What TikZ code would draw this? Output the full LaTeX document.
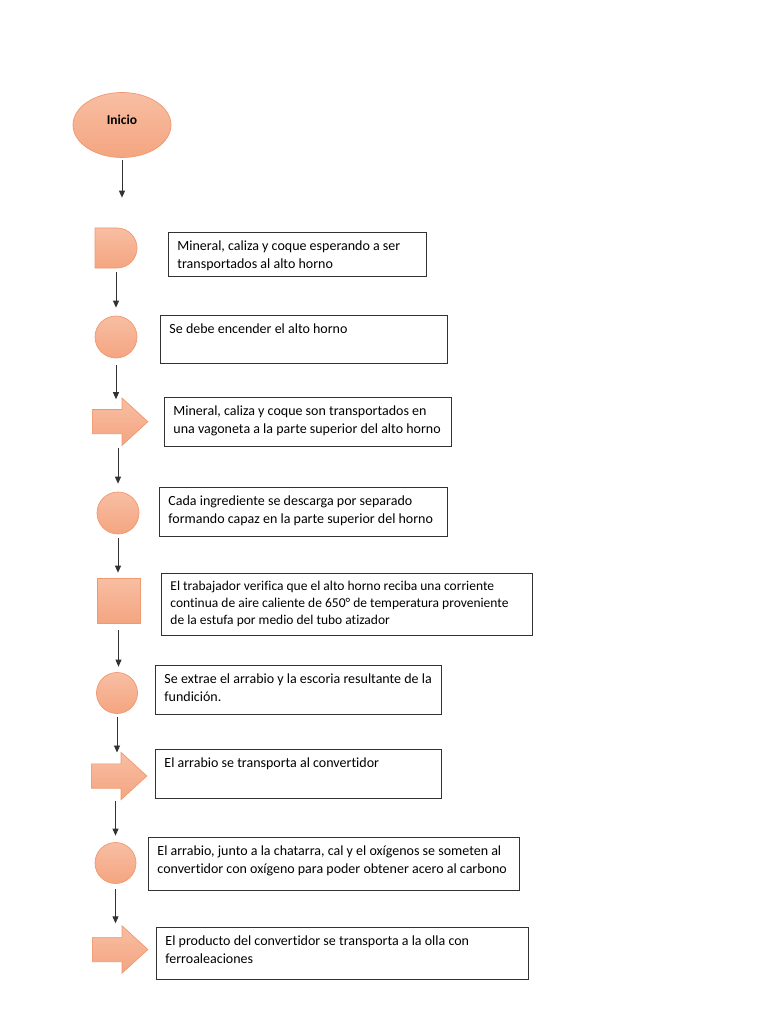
\documentclass[tikz,border=0pt]{standalone}
\usepackage{fontspec}
\setmainfont{Carlito}[Ligatures=NoCommon]
\usetikzlibrary{shapes.geometric,shapes.misc,shapes.arrows,arrows.meta}

\definecolor{naranja}{RGB}{244,165,128}
\definecolor{naranjaclaro}{RGB}{248,190,163}
\definecolor{naranjaborde}{RGB}{240,152,112}
\definecolor{gris}{RGB}{50,50,50}

\newcommand{\texto}[3]{\parbox[t][#2][t]{#1}{\strut #3}}

\tikzset{
  forma/.style={draw=naranjaborde, line width=0.7pt, top color=naranjaclaro, bottom color=naranja},
  caja/.style={draw=gris, line width=0.9pt, anchor=north west, inner xsep=9pt, inner ysep=5.5pt,
    font=\fontsize{14}{18}\selectfont},
  flecha/.style={draw=gris, line width=0.9pt, -{Triangle[length=7pt,width=6pt]}},
  flechaforma/.style={forma, single arrow, single arrow head extend=11.5pt, single arrow tip angle=85,
    minimum height=55.5pt, inner xsep=0pt, inner ysep=11.8pt, anchor=west},
}

\begin{document}
\begin{tikzpicture}[x=1pt,y=-1pt]
\useasboundingbox[fill=white] (0,0) rectangle (768,1024);

% formas
\node[forma, ellipse, minimum width=98pt, minimum height=65pt, text height=0pt, text depth=0pt,
  font=\fontsize{13.5}{18}\selectfont\bfseries] (inicio) at (122,125) {Inicio};
\node[forma, rounded rectangle, rounded rectangle west arc=none, minimum width=42pt,
  minimum height=40pt, inner sep=0pt] (espera) at (116,248) {};
\node[forma, circle, minimum size=42pt, inner sep=0pt] (encender) at (116,337) {};
\node[flechaforma] (vagoneta) at (92,421.7) {};
\node[forma, circle, minimum size=42pt, inner sep=0pt] (descarga) at (118,513) {};
\node[forma, rectangle, minimum width=43pt, minimum height=45pt, inner sep=0pt] (verifica) at (118.5,600.5) {};
\node[forma, circle, minimum size=41pt, inner sep=0pt] (extrae) at (117,693) {};
\node[flechaforma] (convertidor) at (91,776) {};
\node[forma, circle, minimum size=41pt, inner sep=0pt] (somete) at (115.5,863) {};
\node[flechaforma] (olla) at (92,949.5) {};

% cajas de texto
\node[caja] (t1) at (168,232) {\texto{240pt}{33pt}{Mineral, caliza y coque esperando a ser\\transportados al alto horno}};
\node[caja] (t2) at (160,315) {\texto{269pt}{37pt}{Se debe encender el alto horno}};
\node[caja] (t3) at (164,397) {\texto{269pt}{38pt}{Mineral, caliza y coque son transportados en\\una vagoneta a la parte superior del alto horno}};
\node[caja] (t4) at (159,487) {\texto{270pt}{38pt}{Cada ingrediente se descarga por separado\\formando capaz en la parte superior del horno}};
\node[caja, font=\fontsize{13.5}{17}\selectfont] (t5) at (161,573) {\texto{353pt}{51pt}{El trabajador verifica que el alto horno reciba una corriente\\continua de aire caliente de 650° de temperatura proveniente\\de la estufa por medio del tubo atizador}};
\node[caja] (t6) at (155,665) {\texto{268pt}{38pt}{Se extrae el arrabio y la escoria resultante de la\\fundición.}};
\node[caja] (t7) at (155,749) {\texto{268pt}{38pt}{El arrabio se transporta al convertidor}};
\node[caja] (t8) at (148,837) {\texto{353pt}{42pt}{El arrabio, junto a la chatarra, cal y el oxígenos se someten al\\convertidor con oxígeno para poder obtener acero al carbono}};
\node[caja] (t9) at (156,927) {\texto{354pt}{41pt}{El producto del convertidor se transporta a la olla con\\ferroaleaciones}};

% conectores
\draw[flecha, shorten <=2.5pt, shorten >=30pt] (inicio.south) -- (inicio.south |- espera.north);
\draw[flecha, shorten <=4pt, shorten >=8pt] (espera.south) -- (espera.south |- encender.north);
\draw[flecha, shorten <=7pt, shorten >=10pt] (encender.south) -- (encender.south |- vagoneta.north);
\draw[flecha, shorten <=14pt, shorten >=8pt] (descarga.north |- vagoneta.south) -- (descarga.north);
\draw[flecha, shorten <=4pt, shorten >=5pt] (descarga.south) -- (descarga.south |- verifica.north);
\draw[flecha, shorten <=7pt, shorten >=5.5pt] (verifica.south) -- (verifica.south |- extrae.north);
\draw[flecha, shorten <=3.5pt, shorten >=11pt] (extrae.south) -- (extrae.south |- convertidor.north);
\draw[flecha, shorten <=12pt, shorten >=6.5pt] (somete.north |- convertidor.south) -- (somete.north);
\draw[flecha, shorten <=5.5pt, shorten >=13.7pt] (somete.south) -- (somete.south |- olla.north);
\end{tikzpicture}
\end{document}
